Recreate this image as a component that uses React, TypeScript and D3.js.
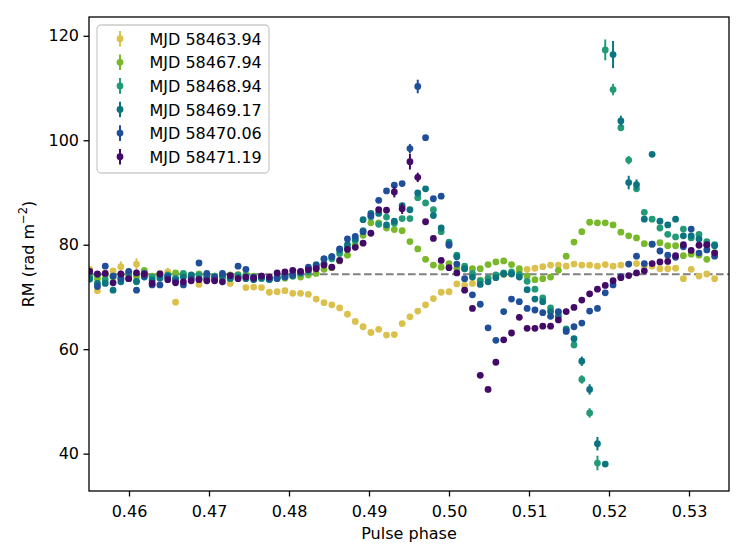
import { FC, useEffect, useRef } from 'react';
import * as d3 from 'd3';

// phase bins k/1024, first and last bin shown
const firstBin = 466;
const lastBin = 546;
const binsPerTurn = 1024;

const labels = ['MJD 58463.94', 'MJD 58467.94', 'MJD 58468.94', 'MJD 58469.17', 'MJD 58470.06', 'MJD 58471.19'];
const colors = ['#dbc14c', '#79b829', '#229a78', '#0c7480', '#1f4f98', '#440a68'];

const rm58463 = [
  75.3, 71.2, 74.5, 75.0, 75.8, 74.2, 76.3, 74.5, 74.0, 74.5, 74.8, 69.0, 74.0, 73.8, 72.4, 73.5, 74.0, 73.5, 72.6, 74.3,
  71.8, 71.9, 71.8, 70.9, 71.0, 71.2, 70.7, 70.7, 70.5, 69.6, 68.9, 68.5, 67.9, 66.7, 65.3, 64.3, 63.2, 63.8, 62.7, 62.8,
  64.9, 66.2, 67.3, 68.5, 69.7, 70.9, 71.0, 72.5, 72.2, 72.6, 73.2, 73.6, 74.0, 74.3, 74.5, 74.9, 75.3, 75.5, 75.8, 76.1,
  76.1, 75.9, 76.3, 76.1, 76.1, 75.9, 76.2, 75.9, 76.1, 76.3, 76.4, 75.9, 75.9, 75.4, 75.4, 75.5, 73.5, 75.3, 74.0, 74.4,
  73.5,
];
const rm58467 = [
  74.0, 73.5, 74.2, 73.8, 74.0, 74.5, 73.9, 75.1, 74.0, 74.3, 73.8, 74.6, 74.2, 73.9, 74.4, 73.8, 74.0, 73.6, 74.2, 73.9,
  74.3, 74.0, 73.8, 73.5, 73.8, 73.6, 74.0, 73.8, 74.2, 74.5, 75.3, 75.6, 76.9, 78.0, 79.9, 81.8, 84.2, 84.2, 83.2, 82.9,
  82.7, 80.6, 79.2, 77.2, 76.1, 75.7, 76.4, 75.5, 75.4, 75.4, 75.4, 76.2, 76.7, 76.9, 76.2, 75.4, 74.0, 73.3, 73.5, 73.8,
  75.1, 77.8, 80.5, 82.5, 84.3, 84.2, 84.2, 83.8, 82.4, 81.7, 81.3, 80.2, 80.1, 80.4, 79.8, 79.8, 77.9, 78.2, 78.0, 77.2,
  78.5,
];
const rm58468 = [
  73.8, 74.3, 73.3, 74.0, 73.5, 74.4, 72.9, 74.6, 73.8, 74.0, 74.2, 73.6, 74.5, 73.8, 74.2, 73.4, 74.0, 73.8, 73.5, 74.2,
  74.0, 73.8, 73.5, 73.3, 73.8, 74.0, 74.3, 74.5, 74.8, 75.6, 76.4, 77.3, 78.3, 79.4, 80.8, 82.7, 85.3, 83.9, 85.3, 84.1,
  85.0, 85.0, 89.0, 88.0, 86.7, 82.5, 80.5, 78.0, 75.9, 74.5, 73.1, 73.6, 74.2, 74.6, 74.8, 74.3, 73.0, 71.5, 69.8, 67.9,
  67.0, 63.9, 60.8, 54.2, 47.8, 38.2, 117.3, 109.7, 102.4, 96.2, 90.7, 86.2, 84.9, 83.2, 82.0, 81.5, 83.0, 81.3, 82.0, 80.6,
  80.0,
];
const rm58469 = [
  73.4, 72.6, 72.6, 71.3, 72.9, 73.5, 73.0, 73.8, 73.2, 73.6, 74.0, 73.3, 73.8, 74.2, 73.5, 73.9, 73.3, 74.1, 73.6, 73.8,
  73.5, 73.3, 73.7, 73.4, 73.7, 74.0, 74.0, 74.6, 75.4, 76.2, 77.3, 77.7, 79.0, 80.0, 81.1, 84.8, 86.0, 86.0, 83.8, 84.5,
  87.5, 86.7, 89.9, 90.7, 85.6, 83.2, 80.2, 77.7, 75.4, 73.8, 72.4, 72.9, 73.7, 74.4, 74.4, 73.8, 71.4, 69.6, 69.1, 67.2,
  66.3, 63.7, 62.0, 57.7, 52.3, 41.9, 38.0, 116.4, 103.7, 91.9, 91.5, 84.9, 97.3, 84.5, 83.8, 84.9, 81.7, 81.7, 81.1, 79.9,
  79.8,
];
const rm58470 = [
  74.8, 72.0, 75.9, 74.0, 73.5, 74.9, 71.3, 74.0, 72.3, 72.3, 73.8, 73.0, 72.3, 73.5, 76.5, 74.5, 73.8, 74.5, 74.0, 75.9,
  75.3, 73.8, 74.0, 73.5, 73.5, 73.8, 74.3, 74.8, 75.7, 76.0, 77.3, 77.7, 79.2, 81.1, 81.6, 82.5, 85.6, 88.5, 90.3, 91.4,
  91.7, 98.4, 110.3, 100.5, 88.8, 89.3, 79.9, 76.3, 73.5, 70.4, 68.6, 64.1, 61.7, 67.2, 69.6, 69.1, 67.8, 67.5, 67.0, 66.3,
  67.2, 63.4, 64.3, 65.0, 67.3, 67.8, 70.8, 72.3, 73.9, 76.3, 77.8, 76.4, 80.1, 78.8, 78.0, 77.6, 79.6, 83.0, 78.4, 79.0,
  77.8,
];
const rm58471 = [
  74.9, 74.4, 74.5, 72.7, 74.4, 73.5, 74.6, 74.4, 72.6, 74.4, 73.3, 72.7, 72.9, 73.1, 73.3, 73.1, 73.1, 72.9, 74.1, 73.5,
  73.8, 73.6, 74.0, 73.8, 74.6, 74.8, 75.1, 74.9, 75.2, 75.4, 76.1, 75.7, 77.0, 79.1, 79.5, 80.3, 82.2, 86.7, 86.6, 90.1,
  86.9, 95.9, 92.9, 84.4, 81.2, 77.0, 75.6, 74.6, 71.3, 67.8, 55.0, 52.3, 57.5, 61.8, 63.1, 66.1, 64.0, 64.0, 64.4, 64.4,
  65.6, 67.2, 68.0, 69.4, 70.6, 71.5, 72.2, 73.1, 73.7, 74.1, 74.6, 75.0, 76.4, 76.7, 76.8, 77.9, 80.0, 78.9, 79.9, 80.0,
  78.4,
];

// error bars large enough to show past the marker (bin offset -> error)
const err58463: Record<number, number> = { 4: 1.0, 6: 1.1, 10: 0.8 };
const err58467: Record<number, number> = {};
const err58468: Record<number, number> = { 63: 0.8, 64: 0.9, 65: 1.4, 66: 2.0, 67: 1.1, 69: 0.8 };
const err58469: Record<number, number> = { 63: 0.9, 64: 1.0, 65: 1.3, 67: 2.6, 68: 1.0, 69: 1.3, 70: 1.0 };
const err58470: Record<number, number> = { 41: 0.9, 42: 1.3 };
const err58471: Record<number, number> = { 39: 1.05, 40: 1.0, 41: 1.5, 42: 0.9 };

const seriesValues = [rm58463, rm58467, rm58468, rm58469, rm58470, rm58471];
const seriesErrors = [err58463, err58467, err58468, err58469, err58470, err58471];

const refRM = 74.35;
const xTicks = [0.46, 0.47, 0.48, 0.49, 0.5, 0.51, 0.52, 0.53];
const yTicks = [40, 60, 80, 100, 120];

const RMChart: FC = () => {
  const chartRef = useRef<SVGSVGElement>(null);

  useEffect(() => {
    const svg = d3.select(chartRef.current);
    svg.selectAll('*').remove();

    const left = 89, right = 729, top = 17, bottom = 491;
    const font = 'DejaVu Sans, sans-serif';
    const fs = 16;

    const x = d3.scaleLinear().domain([0.455, 0.535]).range([left, right]);
    const y = d3.scaleLinear().domain([32.85, 123.6]).range([bottom, top]);

    svg.append('rect').attr('width', 747).attr('height', 560).attr('fill', '#fff');

    svg.append('defs').append('clipPath').attr('id', 'plot-clip')
      .append('rect').attr('x', left).attr('y', top).attr('width', right - left).attr('height', bottom - top);

    const plot = svg.append('g').attr('clip-path', 'url(#plot-clip)');

    // reference RM
    plot.append('line')
      .attr('x1', left).attr('x2', right)
      .attr('y1', y(refRM)).attr('y2', y(refRM))
      .attr('stroke', '#808080').attr('stroke-width', 2.2)
      .attr('stroke-dasharray', '7.6,3.4');

    const phases = d3.range(firstBin, lastBin + 1).map((k) => k / binsPerTurn);

    seriesValues.forEach((vals, s) => {
      const g = plot.append('g');
      const errs = seriesErrors[s];
      Object.keys(errs).forEach((key) => {
        const i = +key;
        const e = errs[i];
        g.append('line')
          .attr('x1', x(phases[i])).attr('x2', x(phases[i]))
          .attr('y1', y(vals[i] - e)).attr('y2', y(vals[i] + e))
          .attr('stroke', colors[s]).attr('stroke-width', 2);
      });
      g.selectAll('circle')
        .data(vals)
        .enter()
        .append('circle')
        .attr('cx', (_d, i) => x(phases[i]))
        .attr('cy', (d) => y(d))
        .attr('r', 3.4)
        .attr('fill', colors[s]);
    });

    // axes
    const xAxis = svg.append('g')
      .attr('transform', `translate(0,${bottom})`)
      .call(d3.axisBottom(x).tickValues(xTicks).tickFormat(d3.format('.2f')).tickSize(5.5).tickPadding(9));
    const yAxis = svg.append('g')
      .attr('transform', `translate(${left},0)`)
      .call(d3.axisLeft(y).tickValues(yTicks).tickSize(5.5).tickPadding(4.5));

    [xAxis, yAxis].forEach((a) => {
      a.select('.domain').remove();
      a.selectAll('line').attr('stroke', '#000').attr('stroke-width', 1.3);
      a.selectAll('text').attr('font-family', font).attr('font-size', fs).attr('fill', '#000');
    });

    svg.append('rect')
      .attr('x', left).attr('y', top).attr('width', right - left).attr('height', bottom - top)
      .attr('fill', 'none').attr('stroke', '#000').attr('stroke-width', 1.3);

    svg.append('text')
      .attr('x', (left + right) / 2).attr('y', 539)
      .attr('text-anchor', 'middle')
      .attr('font-family', font).attr('font-size', fs)
      .text('Pulse phase');

    const yl = svg.append('text')
      .attr('transform', `translate(34,${(top + bottom) / 2}) rotate(-90)`)
      .attr('text-anchor', 'middle')
      .attr('font-family', font).attr('font-size', fs);
    yl.append('tspan').text('RM (rad m');
    yl.append('tspan').attr('font-size', 11.5).attr('dy', -7).text('\u22122');
    yl.append('tspan').attr('dy', 7).text(')');

    // legend
    const lg = svg.append('g');
    lg.append('rect')
      .attr('x', 97).attr('y', 25).attr('width', 172).attr('height', 148).attr('rx', 4)
      .attr('fill', '#fff').attr('fill-opacity', 0.8)
      .attr('stroke', '#cccccc').attr('stroke-width', 1.3);
    labels.forEach((lab, s) => {
      const cy = 38.7 + s * 23.6;
      lg.append('line')
        .attr('x1', 120).attr('x2', 120).attr('y1', cy - 7.8).attr('y2', cy + 7.8)
        .attr('stroke', colors[s]).attr('stroke-width', 2);
      lg.append('circle').attr('cx', 120).attr('cy', cy).attr('r', 3.4).attr('fill', colors[s]);
      lg.append('text')
        .attr('x', 149.5).attr('y', cy + 6)
        .attr('font-family', font).attr('font-size', fs)
        .text(lab);
    });
  }, []);

  return (
    <svg
      ref={chartRef}
      width={747}
      height={560}
      style={{ position: 'absolute', left: 0, top: 0, display: 'block' }}
    />
  );
};

export default function App() {
  return <RMChart />;
}
